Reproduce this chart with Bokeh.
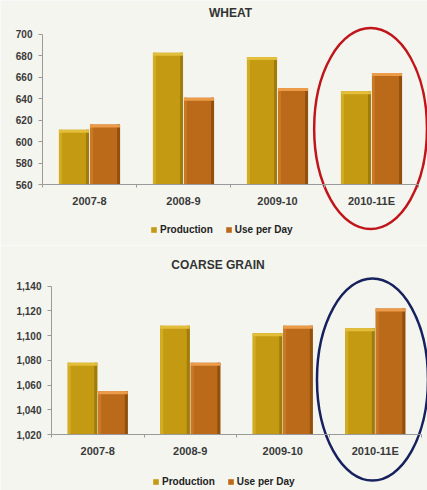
import numpy as np
from bokeh.plotting import figure
from bokeh.models import Range1d, FixedTicker, Label, Legend, LegendItem, ColumnDataSource, NumeralTickFormatter
from bokeh.transform import dodge
from bokeh.layouts import column
from bokeh.embed import file_html
from bokeh.resources import INLINE

categories = ["2007-8", "2008-9", "2009-10", "2010-11E"]
series_names = ["Production", "Use per Day"]

wheat_production = [611, 683, 679, 647]
wheat_use = [616, 641, 650, 664]
wheat_ticks = [560, 580, 600, 620, 640, 660, 680, 700]

coarse_production = [1078, 1108, 1102, 1106]
coarse_use = [1055, 1078, 1108, 1122]
coarse_ticks = [1020, 1040, 1060, 1080, 1100, 1120, 1140]

BG = "#f4f5ef"
FONT = "Liberation Sans"
PROD = "#c49a12"
PROD_TOP = "#e2be3a"
PROD_L = "#d2ac22"
PROD_R = "#9f7c0c"
USE = "#bb6a1a"
USE_TOP = "#ec9c48"
USE_L = "#c97826"
USE_R = "#92500f"


def make_chart(title, prod, use, ticks, fmt, y0, y1, x0, x1,
               title_xy, legend_xy, ell, ell_color):
    W, H = 427, 245
    p = figure(width=W, height=H, output_backend="svg", toolbar_location=None,
               x_range=Range1d(x0, x1), y_range=Range1d(y0, y1),
               min_border_left=0, min_border_right=0,
               min_border_top=0, min_border_bottom=0)
    p.background_fill_color = BG
    p.border_fill_color = BG
    p.outline_line_color = None
    p.xgrid.visible = False
    p.ygrid.visible = False

    n = len(categories)
    px_y = (y1 - y0) / H
    px_x = (x1 - x0) / W
    src = ColumnDataSource(dict(
        x=np.arange(n) + 0.5,
        prod=prod, use=use,
        prod_hi=np.array(prod) - px_y * 3,
        use_hi=np.array(use) - px_y * 3,
    ))
    base = ticks[0]
    w = 0.32
    off = 0.165
    sw = px_x * 3
    r1 = p.vbar(x=dodge("x", -off, range=p.x_range), top="prod", bottom=base, width=w,
                source=src, fill_color=PROD, line_color=None)
    r2 = p.vbar(x=dodge("x", off, range=p.x_range), top="use", bottom=base, width=w,
                source=src, fill_color=USE, line_color=None)
    # bevel strips (left light, right dark, top highlight)
    for sign, top, hi, cl, cr, ct in ((-1, "prod", "prod_hi", PROD_L, PROD_R, PROD_TOP),
                                      (1, "use", "use_hi", USE_L, USE_R, USE_TOP)):
        c = sign * off
        p.vbar(x=dodge("x", c - w / 2 + sw / 2, range=p.x_range), top=top, bottom=base,
               width=sw, source=src, fill_color=cl, line_color=None)
        p.vbar(x=dodge("x", c + w / 2 - sw / 2, range=p.x_range), top=top, bottom=base,
               width=sw, source=src, fill_color=cr, line_color=None)
        p.vbar(x=dodge("x", c, range=p.x_range), top=top, bottom=hi, width=w,
               source=src, fill_color=ct, line_color=None)

    ya = p.yaxis[0]
    ya.fixed_location = 0
    ya.ticker = FixedTicker(ticks=ticks)
    ya.bounds = (ticks[0], ticks[-1])
    ya.formatter = fmt
    ya.axis_line_color = "#9a9a9a"
    ya.major_tick_line_color = "#9a9a9a"
    ya.major_tick_out = 4
    ya.major_tick_in = 0
    ya.minor_tick_line_color = None
    ya.major_label_text_font = FONT
    ya.major_label_text_font_style = "bold"
    ya.major_label_text_font_size = "10px"
    ya.major_label_text_color = "#3a3a3a"
    ya.major_label_standoff = 6

    xa = p.xaxis[0]
    xa.fixed_location = base
    xa.ticker = FixedTicker(ticks=list(np.arange(n) + 0.5), minor_ticks=list(range(n + 1)))
    xa.major_label_overrides = {float(i + 0.5): c for i, c in enumerate(categories)}
    xa.bounds = (0, n)
    xa.axis_line_color = "#9a9a9a"
    xa.major_tick_line_color = None
    xa.minor_tick_line_color = "#9a9a9a"
    xa.minor_tick_out = 3
    xa.minor_tick_in = 0
    xa.major_label_text_font = FONT
    xa.major_label_text_font_style = "bold"
    xa.major_label_text_font_size = "11px"
    xa.major_label_text_color = "#3a3a3a"
    xa.major_label_standoff = 4

    p.add_layout(Label(x=title_xy[0], y=title_xy[1], x_units="screen", y_units="screen",
                       text=title, text_align="center", text_baseline="middle",
                       text_font=FONT, text_font_style="bold", text_font_size="12px",
                       text_color="#333333"))

    legend = Legend(items=[LegendItem(label=series_names[0], renderers=[r1]),
                           LegendItem(label=series_names[1], renderers=[r2])],
                    location=legend_xy, orientation="horizontal",
                    padding=0, margin=0, spacing=12, label_standoff=3,
                    glyph_width=7, glyph_height=7, label_height=10,
                    border_line_color=None, background_fill_alpha=0,
                    label_text_font=FONT, label_text_font_style="bold",
                    label_text_font_size="10px", label_text_color="#222222")
    p.add_layout(legend)

    p.ellipse(x=ell[0], y=ell[1], width=ell[2], height=ell[3],
              fill_color=None, line_color=ell_color, line_width=2.5)
    return p


p1 = make_chart("WHEAT", wheat_production, wheat_use, wheat_ticks,
                NumeralTickFormatter(format="0"), 503.1, 731.7, -42 / 94, 385 / 94,
                (230, 233), (150, 10), (3.49, 612.2, 1.2, 187.6), "#c0161b")
p2 = make_chart("COARSE GRAIN", coarse_production, coarse_use, coarse_ticks,
                NumeralTickFormatter(format="0,0"), 974.7, 1172.9, -51 / 92.5, 376 / 92.5,
                (217.5, 225.7), (152, 3), (3.47, 1064.5, 1.2, 163.4), "#16215e")

layout = column(p1, p2, spacing=0)
open("out.html", "w").write(file_html(layout, INLINE))
